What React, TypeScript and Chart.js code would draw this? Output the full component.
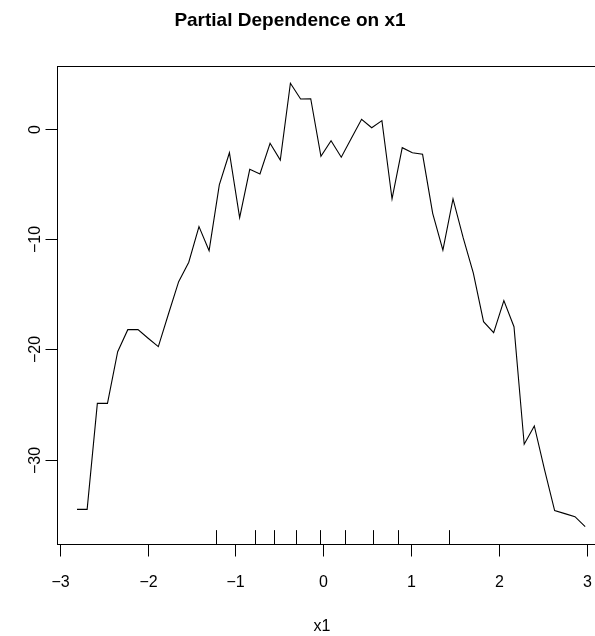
import React, { useEffect, useRef } from "react";
import { Chart, registerables } from "chart.js";

Chart.register(...registerables);

const xValues: number[] = [
  -2.801, -2.686, -2.570, -2.455, -2.339, -2.224, -2.108, -1.993, -1.877, -1.762,
  -1.646, -1.531, -1.415, -1.300, -1.184, -1.069, -0.953, -0.838, -0.722, -0.607,
  -0.491, -0.376, -0.260, -0.145, -0.029, 0.086, 0.202, 0.317, 0.433, 0.548,
  0.664, 0.779, 0.895, 1.010, 1.126, 1.241, 1.357, 1.472, 1.588, 1.703,
  1.819, 1.934, 2.050, 2.165, 2.281, 2.396, 2.512, 2.627, 2.743, 2.858, 2.974,
];

const yValues: number[] = [
  -34.51, -34.51, -24.9, -24.9, -20.22, -18.22, -18.22, -19.0, -19.76, -16.8,
  -13.87, -12.11, -8.88, -11.06, -5.1, -2.18, -8.07, -3.68, -4.11, -1.32,
  -2.84, 4.12, 2.69, 2.72, -2.5, -1.09, -2.59, -0.87, 0.85, 0.09,
  0.73, -6.37, -1.72, -2.18, -2.32, -7.67, -11.0, -6.37, -9.9, -13.1,
  -17.5, -18.5, -15.59, -17.95, -28.61, -26.95, -30.9, -34.63, -34.9, -35.18, -36.08,
];

const rugValues: number[] = [-1.223, -0.784, -0.557, -0.314, -0.0375, 0.247, 0.561, 0.852, 1.428];

const xTicks: number[] = [-3, -2, -1, 0, 1, 2, 3];
const yTicks: number[] = [-30, -20, -10, 0];

const titleText = "Partial Dependence on x1";
const xLabelText = "x1";

const FONT = '"Liberation Sans", Arial, Helvetica, sans-serif';

const fmt = (v: number) => (v < 0 ? "\u2212" + Math.abs(v) : String(v));

const rPlotPlugin = {
  id: "rPlot",
  afterDraw(chart: any) {
    const ctx = chart.ctx as CanvasRenderingContext2D;
    const { left, right, top, bottom } = chart.chartArea;
    const xs = chart.scales.x;
    const ys = chart.scales.y;
    ctx.save();
    ctx.strokeStyle = "#000";
    ctx.fillStyle = "#000";
    ctx.lineWidth = 1;

    const lx = Math.round(left) + 0.5;
    const rx = Math.round(right) + 0.5;
    const ty = Math.round(top) + 0.5;
    const by = Math.round(bottom) + 0.5;

    // box
    ctx.strokeRect(lx, ty, rx - lx, by - ty);

    // x axis ticks + labels
    ctx.font = `16px ${FONT}`;
    ctx.textAlign = "center";
    ctx.textBaseline = "alphabetic";
    for (const t of xTicks) {
      const px = Math.round(xs.getPixelForValue(t)) + 0.5;
      ctx.beginPath();
      ctx.moveTo(px, by);
      ctx.lineTo(px, by + 12);
      ctx.stroke();
      ctx.fillText(fmt(t), px, 587);
    }

    // y axis ticks + labels
    for (const t of yTicks) {
      const py = Math.round(ys.getPixelForValue(t)) + 0.5;
      ctx.beginPath();
      ctx.moveTo(lx, py);
      ctx.lineTo(lx - 12, py);
      ctx.stroke();
      ctx.save();
      ctx.translate(40, py);
      ctx.rotate(-Math.PI / 2);
      ctx.textAlign = "center";
      ctx.textBaseline = "alphabetic";
      ctx.fillText(fmt(t), 0, 0);
      ctx.restore();
    }

    // rug
    const rugLen = 0.03 * (bottom - top);
    for (const r of rugValues) {
      const px = Math.round(xs.getPixelForValue(r)) + 0.5;
      ctx.beginPath();
      ctx.moveTo(px, by);
      ctx.lineTo(px, by - rugLen);
      ctx.stroke();
    }

    // title
    ctx.font = `bold 19px ${FONT}`;
    ctx.textAlign = "center";
    ctx.fillText(titleText, 290, 26);

    // x label
    ctx.font = `16px ${FONT}`;
    ctx.fillText(xLabelText, 322, 631);

    ctx.restore();
  },
};

export default function App() {
  const canvasRef = useRef<HTMLCanvasElement | null>(null);

  useEffect(() => {
    if (!canvasRef.current) return;
    const chart = new Chart(canvasRef.current, {
      type: "scatter",
      data: {
        datasets: [
          {
            data: xValues.map((x, i) => ({ x, y: yValues[i] })),
            showLine: true,
            borderColor: "#000",
            borderWidth: 1.1,
            pointRadius: 0,
            tension: 0,
            fill: false,
          },
        ],
      },
      options: {
        responsive: false,
        animation: false,
        events: [],
        layout: { padding: { left: 56.7, top: 65.5, right: 14.5, bottom: 91.6 } },
        plugins: {
          legend: { display: false },
          tooltip: { enabled: false },
          title: { display: false },
        },
        scales: {
          x: { type: "linear", display: false, min: -3.032, max: 3.205 },
          y: { type: "linear", display: false, min: -37.69, max: 5.73 },
        },
      },
      plugins: [rPlotPlugin],
    });
    return () => chart.destroy();
  }, []);

  return (
    <div
      style={{
        position: "fixed",
        left: 0,
        top: 0,
        width: 595,
        height: 636,
        overflow: "hidden",
        background: "#fff",
      }}
    >
      <canvas ref={canvasRef} width={620} height={636} style={{ width: 620, height: 636, display: "block" }} />
    </div>
  );
}
